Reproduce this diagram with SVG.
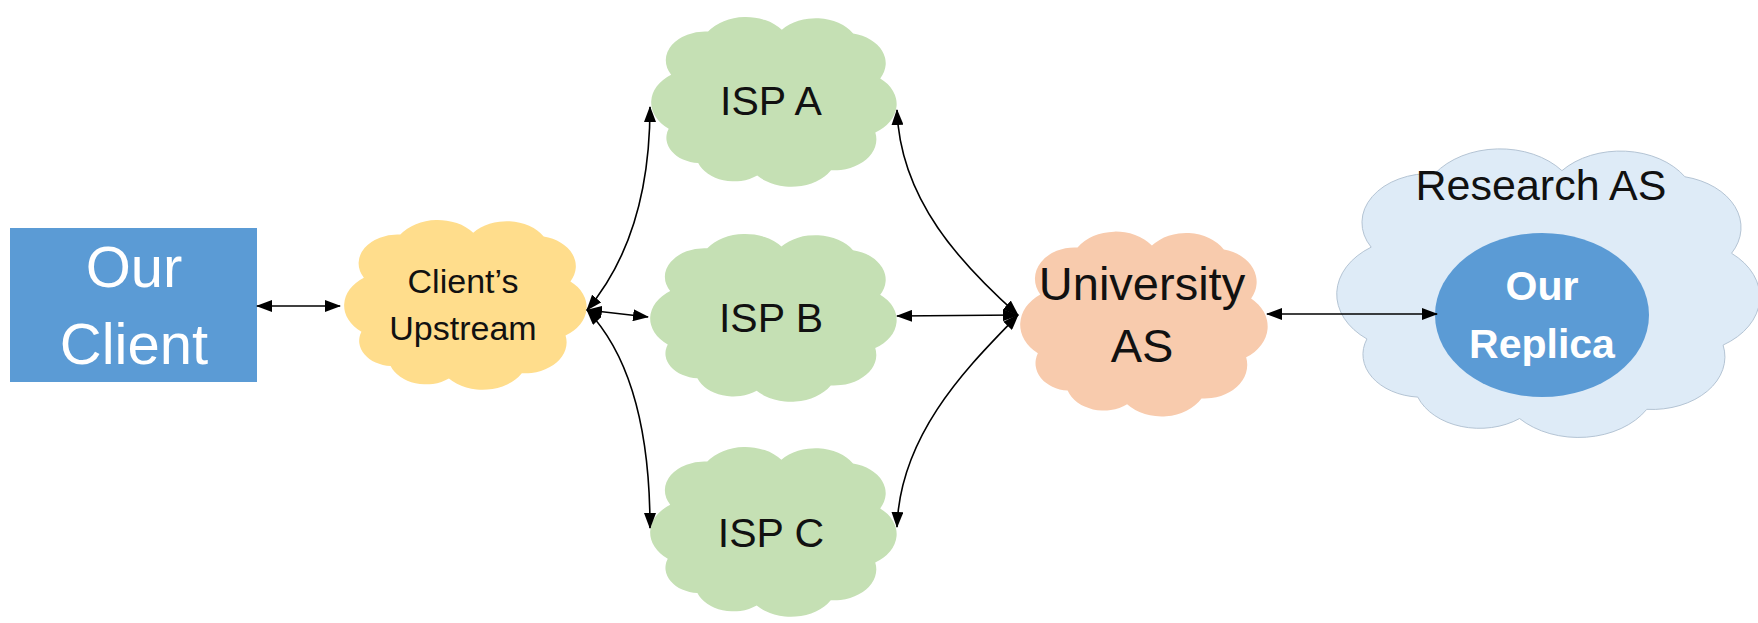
<svg xmlns="http://www.w3.org/2000/svg" xmlns:xlink="http://www.w3.org/1999/xlink" width="1758" height="623" viewBox="0 0 1758 623">
  <style>
    .lbl { font-family: "Liberation Sans", Arial, sans-serif; text-anchor: middle; fill: #111; }
    .white { fill: #ffffff; }
    .bold { font-weight: bold; }
    .conn { fill: none; stroke: #000; stroke-width: 1.6; marker-start: url(#head); marker-end: url(#head); }
  </style>
  <defs>
    <!-- cloud outline in a 100 x 100 box -->
    <path id="cloud" vector-effect="non-scaling-stroke" d="M8,66 A18.6,18.6 0 0 1 9,36 A16,16 0 0 1 24,12 A18.6,18.6 0 0 1 54,11 A18,18 0 0 1 83,13 A17,17 0 0 1 94,38 A18.6,18.6 0 0 1 92,68 A17.2,17.2 0 0 1 74,89 A18.7,18.7 0 0 1 44,92 A15.5,15.5 0 0 1 20,85 A14,14 0 0 1 8,66 Z"/>
    <marker id="head" viewBox="0 0 16 12" refX="15" refY="6" markerWidth="16" markerHeight="12" markerUnits="userSpaceOnUse" orient="auto-start-reverse">
      <path d="M0,0 L16,6 L0,12 Z" fill="#000"/>
    </marker>
  </defs>

  <rect width="1758" height="623" fill="#ffffff"/>

  <!-- Our Client -->
  <g id="our-client">
    <rect x="10" y="228" width="247" height="154" fill="#5B9BD5"/>
    <text class="lbl white" x="134" y="287" font-size="58">Our</text>
    <text class="lbl white" x="134" y="364" font-size="58">Client</text>
  </g>

  <!-- Client's Upstream -->
  <g id="clients-upstream">
    <use href="#cloud" xlink:href="#cloud" fill="#FFDD8C" transform="translate(342,213) scale(2.43,1.8)"/>
    <text class="lbl" x="463" y="293" font-size="34">Client’s</text>
    <text class="lbl" x="463" y="340" font-size="34">Upstream</text>
  </g>

  <!-- ISP A -->
  <g id="isp-a">
    <use href="#cloud" xlink:href="#cloud" fill="#C5E0B4" transform="translate(649,10) scale(2.46,1.8)"/>
    <text class="lbl" x="771" y="115" font-size="41">ISP A</text>
  </g>

  <!-- ISP B -->
  <g id="isp-b">
    <use href="#cloud" xlink:href="#cloud" fill="#C5E0B4" transform="translate(648,227) scale(2.47,1.78)"/>
    <text class="lbl" x="771" y="332" font-size="41">ISP B</text>
  </g>

  <!-- ISP C -->
  <g id="isp-c">
    <use href="#cloud" xlink:href="#cloud" fill="#C5E0B4" transform="translate(648,440) scale(2.47,1.8)"/>
    <text class="lbl" x="771" y="547" font-size="41">ISP C</text>
  </g>

  <!-- University AS -->
  <g id="university-as">
    <use href="#cloud" xlink:href="#cloud" fill="#F8CBAD" transform="translate(1018,224) scale(2.48,1.96)"/>
    <text class="lbl" x="1142" y="300" font-size="47">University</text>
    <text class="lbl" x="1142" y="362" font-size="47">AS</text>
  </g>

  <!-- Research AS with Our Replica inside -->
  <g id="research-as">
    <use href="#cloud" xlink:href="#cloud" fill="#DEEBF7" stroke="#B4C4D4" stroke-width="1" transform="translate(1333,137) scale(4.24,3.06)"/>
    <text class="lbl" x="1541" y="200" font-size="43">Research AS</text>
  </g>
  <g id="our-replica">
    <ellipse cx="1542" cy="315" rx="107" ry="82" fill="#5B9BD5"/>
    <text class="lbl white bold" x="1542" y="300" font-size="41">Our</text>
    <text class="lbl white bold" x="1542" y="358" font-size="41">Replica</text>
  </g>

  <!-- connectors -->
  <g id="connectors">
    <line class="conn" x1="257" y1="306" x2="340" y2="306"/>
    <path class="conn" d="M587,310 C625,265 650,200 650,107"/>
    <line class="conn" x1="587" y1="310" x2="648" y2="317"/>
    <path class="conn" d="M587,310 C630,355 650,430 650,528"/>
    <path class="conn" d="M1018,315 C962,265 900,200 897,110"/>
    <line class="conn" x1="897" y1="316" x2="1018" y2="315"/>
    <path class="conn" d="M1018,315 C975,360 900,430 897,527"/>
    <line class="conn" x1="1267" y1="314" x2="1437" y2="314"/>
  </g>
</svg>
